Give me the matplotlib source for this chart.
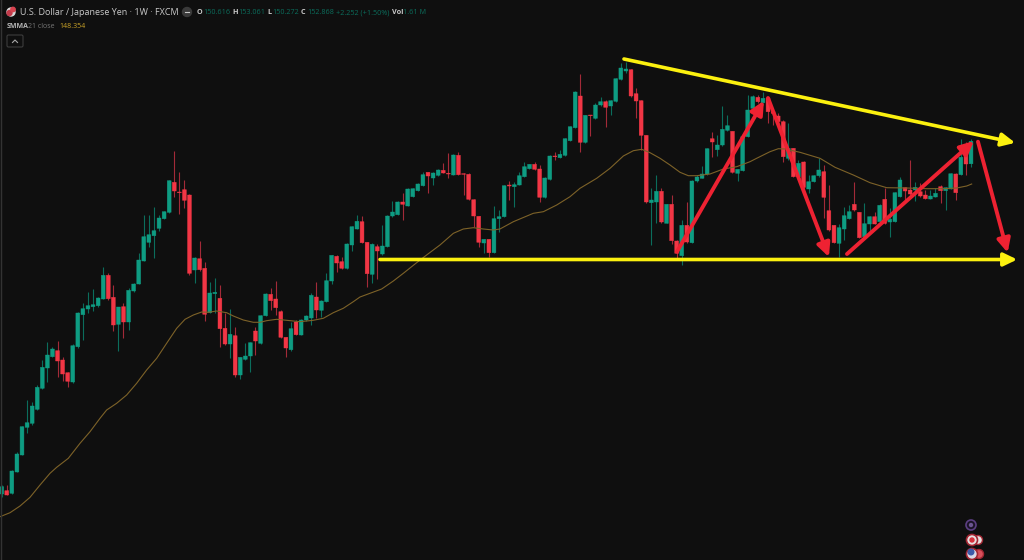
import matplotlib
matplotlib.use('Agg')
import matplotlib.pyplot as plt
from matplotlib.patches import Circle, FancyBboxPatch

plt.rcParams['font.family'] = ['Open Sans', 'DejaVu Sans']

# weekly candles, USD/JPY
open_ = [117.6, 117.93, 117.67, 119.8, 121.5, 124.27, 124.67, 126.07, 128.17, 130.2,
         131.33, 131.93, 131, 129.73, 128.8, 132.33, 135.53, 136.1, 136.33, 136.43,
         137.1, 139.47, 137.27, 134.57, 136.33, 134.8, 137.9, 138.6, 140.9, 142.77,
         143.43, 144.17, 145.13, 145.77, 148.77, 147.8, 148.03, 147.5, 140, 141.13,
         140.17, 135.73, 137.63, 137.17, 134.17, 132.6, 133.43, 129.5, 131.07, 131.4,
         133.9, 132.67, 135.43, 137.57, 137.1, 135.83, 133.27, 132.03, 134.8, 133.5,
         135, 135.2, 137.3, 135.97, 136.83, 138.9, 141.37, 140.83, 140.17, 142.5,
         144.1, 144.83, 142.77, 139.57, 142.33, 141.6, 142.33, 145.4, 145.53, 146.8,
         146.4, 147.33, 147.93, 148.43, 149.77, 149.2, 149.47, 149.97, 149.67, 149.5,
         151.47, 149.63, 149.57, 147.03, 145.37, 142.7, 143.07, 141.73, 145.13, 145.33,
         148.5, 148.33, 148.5, 149.33, 150.13, 150.57, 150.1, 147.27, 149.07, 151.4,
         151.23, 151.47, 152.93, 154.23, 157.4, 152.77, 155.5, 155.17, 156.5, 156.83,
         156.4, 156.87, 159.07, 159.9, 160.03, 157.63, 156.93, 153.47, 146.73, 146.8,
         147.87, 144.67, 146.57, 142.9, 141.43, 144.47, 142.73, 148.9, 149.17, 149.6,
         153.13, 152.03, 152.5, 153.97, 153.87, 149.67, 149.93, 153.33, 156.17, 157.27,
         156.73, 157.2, 155.83, 155.4, 154.83, 151.17, 152.17, 149.33, 150.8, 148.1,
         148.83, 149.43, 149.83, 145.93, 144.47, 142.67, 144.1, 145.13, 146.57, 145.77,
         143.33, 144.6, 145.33, 144.83, 147.07, 144.8, 144.83, 147.33, 148.23, 148,
         148, 147.83, 147.5, 147.1, 147.3, 148.33, 147.93, 148.1, 149.6, 149.53,
         152.33, 150.62]
high = [118.5, 118.5, 119.97, 121.83, 124.4, 127, 126.83, 128.5, 131, 132.83,
        132.33, 132.9, 131.33, 129.83, 132.6, 135.77, 136.73, 137.83, 138.07, 137.33,
        140.33, 139.67, 138.5, 136.33, 136.67, 138.17, 138.67, 141.67, 145.5, 145.5,
        146.33, 145.5, 145.9, 149, 151.9, 149.83, 149, 147.57, 141.27, 142.93,
        140.77, 138.83, 139.17, 138.5, 135.67, 136.07, 134.27, 131.33, 132.67, 132.8,
        134.33, 135.5, 137.67, 138.17, 138.93, 136, 133.33, 134.83, 135, 135.07,
        135.5, 137.67, 138.83, 137, 139.73, 141.53, 141.47, 141.33, 142.67, 144.4,
        145.5, 145.4, 142.83, 142.67, 142.6, 144.5, 145.47, 146.93, 146.9, 147.73,
        148.17, 148.17, 148.67, 149.83, 149.83, 149.83, 150.07, 150.73, 151.67, 151.57,
        151.83, 149.73, 149.67, 147.1, 145.4, 143.13, 143.13, 146.4, 146, 148.5,
        148.9, 148.83, 149.83, 150.83, 150.63, 150.83, 150.5, 149.27, 151.47, 151.83,
        152, 153.2, 154.4, 157.87, 159.6, 155.5, 155.5, 156.67, 157.33, 157,
        157, 159.2, 160.67, 160.83, 160.1, 158.17, 157, 153.53, 148.17, 149.5,
        148.17, 146.6, 147.5, 143, 145, 146.83, 148.97, 149.5, 150.4, 152.2,
        153.83, 153.5, 156.4, 155.5, 153.93, 150.13, 153.4, 157.5, 157.5, 157.5,
        157.83, 157.27, 156, 155.67, 155, 154.67, 152.23, 151, 150.87, 149.5,
        149.5, 151.17, 150.5, 148.5, 144.53, 144.6, 146.33, 146.5, 148.83, 145.83,
        146.67, 145.4, 145.83, 146.6, 148.17, 146.17, 147.8, 149.33, 148.33, 151,
        148.83, 148.67, 148, 148, 148.17, 148.5, 148.33, 149.73, 149.67, 153.13,
        152.83, 153.06]
low = [117.27, 117.47, 117.63, 119.77, 121.47, 123.67, 124.5, 126.05, 128.15, 128.83,
       131.27, 129.33, 128.93, 128.27, 128.73, 132.17, 133, 135.73, 135.93, 136.33,
       137.07, 137, 133.93, 131.93, 133.17, 134, 137.83, 138.57, 140.87, 142.33,
       141.17, 143.93, 145.07, 145.73, 147.33, 145.6, 146.17, 139.5, 138.73, 139.93,
       134.93, 135.67, 135.67, 132.27, 132.5, 131.17, 129.33, 129.07, 131, 129.83,
       131.5, 132.6, 135.4, 136, 135.5, 133.17, 131.33, 131.93, 133.5, 133.47,
       134.93, 134.47, 135.17, 135.27, 136.8, 138.6, 139.83, 140.07, 140.13, 141.93,
       144.07, 142.67, 138.33, 138.67, 139.07, 141.53, 142.27, 145.27, 145.5, 145,
       146.37, 147.27, 147.9, 148.4, 147.67, 148.5, 149.4, 149.67, 149.17, 149.47,
       149.47, 147.5, 147, 144.33, 142.27, 141.67, 141.33, 141.7, 143.83, 145.27,
       147, 146.33, 148.47, 149.3, 150.07, 150, 146.83, 147.23, 149.03, 151,
       151.17, 151.43, 152.9, 154.2, 151.83, 152.73, 153.4, 155.13, 156.43, 154.27,
       155.5, 156.83, 159, 159.67, 157.33, 155.17, 152, 146.73, 142.5, 144.67,
       144.73, 144.67, 142.6, 141.17, 140.5, 142.73, 142.67, 148.83, 149.17, 149.53,
       151.33, 151.4, 152.43, 153.9, 149.73, 148.93, 149.87, 153.27, 156.1, 156.67,
       156.67, 154.67, 154.5, 154.67, 150.83, 151, 149.27, 149.27, 147.5, 147.67,
       148.77, 149.33, 145.17, 143.93, 142.67, 141.33, 143, 145.07, 145.93, 143.17,
       143.27, 143.67, 144.57, 144.8, 144.6, 143.33, 144.77, 147.27, 147, 147.5,
       146.93, 147.33, 147.07, 147.07, 147.27, 146.73, 146, 148.07, 147, 149.47,
       149.5, 150.27]
close = [118.33, 117.5, 119.9, 121.6, 124.33, 124.73, 126.4, 128.27, 130.27, 131.5,
         132.1, 130.9, 129.6, 128.87, 132.43, 135.7, 136.13, 136.43, 136.53, 137.2,
         139.47, 137.13, 134.5, 136.3, 134.8, 137.97, 138.6, 141, 143.33, 143.53,
         143.93, 145.2, 145.83, 148.93, 147.9, 147.73, 146.97, 139.67, 141.2, 140.03,
         135.57, 137.7, 137.77, 134.13, 132.6, 133.57, 129.5, 131.27, 131.4, 132.73,
         132.9, 135.43, 137.6, 136.93, 136.23, 133.27, 132.2, 134.13, 133.53, 135,
         135.4, 137.47, 136, 136.9, 138.93, 141.47, 140.7, 140.17, 142.6, 144.33,
         144.87, 142.73, 139.63, 142.57, 141.9, 142.4, 145.4, 145.8, 146.8, 146.57,
         148.1, 148.13, 148.6, 149.53, 149.4, 149.7, 150, 149.7, 149.6, 151.5,
         149.53, 149.57, 147.07, 145.4, 142.77, 143.07, 141.73, 145.13, 145.33, 148.43,
         148.4, 148.53, 149.43, 150.33, 150.57, 150.07, 147.27, 149.2, 151.4, 151.33,
         151.57, 153.13, 154.33, 157.8, 152.77, 155.47, 155.43, 156.5, 156.83, 156.27,
         156.93, 159.13, 160.2, 160.1, 157.4, 156.9, 153.47, 146.8, 147, 147.87,
         144.8, 146.57, 142.93, 141.67, 144.47, 142.8, 148.9, 149.3, 149.6, 152.13,
         152.8, 152.5, 154.07, 154.43, 149.77, 150.07, 153.33, 156, 157.33, 156.83,
         157.17, 155.83, 155.67, 154.83, 151.33, 152.17, 149.33, 150.67, 148.27, 148.83,
         149.43, 150, 147.27, 144, 142.73, 144.23, 145.43, 145.83, 146, 143.23,
         144.63, 145.33, 144.6, 146.47, 144.67, 145.07, 147.73, 149, 147.9, 147.6,
         148.27, 147.4, 147.13, 147.4, 147.67, 147.93, 148.23, 149.63, 147.73, 151.27,
         150.6, 152.87]

# SMMA 21 line, sampled along the curve
smma_week = [0.67, 2.64, 4.61, 6.58, 8.55, 10.52, 11.83, 14.13, 16.43, 18.4,
             20.37, 21.68, 23.65, 25.62, 27.59, 29.56, 31.54, 33.5, 35.48, 37.12,
             38.76, 40.4, 41.72, 43.36, 45.33, 46.64, 48.61, 50.58, 51.9, 53.2,
             55.18, 57.15, 59.77, 62.4, 64.37, 66.34, 68.31, 70.28, 71.6, 73.57,
             75.87, 78.17, 80.14, 82.76, 84.73, 87.36, 90, 91.96, 93.93, 95.9,
             97.87, 99.18, 101.82, 105.76, 107.73, 110.36, 112.98, 114.95, 118.24, 120.87,
             123.49, 125.46, 127.11, 128.75, 130.72, 132.69, 134.66, 136.3, 137.95, 140.57,
             143.2, 145.83, 148.45, 149.76, 152.39, 154.03, 155.35, 158.3, 162.24, 165.2,
             168.81, 172.1, 175.38, 179.32, 183.26, 186.55, 189.17, 191.15, 192.13]
smma_value = [115.33, 115.73, 116.4, 117.27, 118.5, 119.67, 120.27, 121.17, 122.67, 123.83,
              125.17, 126, 126.67, 127.5, 128.67, 130, 131.17, 132.67, 134.17, 135.07,
              135.5, 135.8, 135.77, 135.9, 135.73, 135.4, 135, 134.77, 134.77, 134.93,
              135.07, 134.97, 134.83, 134.97, 135.17, 135.73, 136.17, 136.83, 137.3, 137.67,
              138.1, 138.9, 139.67, 140.73, 141.5, 142.5, 143.67, 144.1, 144.23, 144.1,
              144, 144.1, 144.83, 145.67, 145.83, 146.5, 147.33, 148.17, 149.17, 150.17,
              151.4, 151.93, 152.07, 151.73, 151.17, 150.5, 149.77, 149.43, 149.43, 149.6,
              150.1, 150.33, 150.83, 151.17, 151.83, 152.13, 152.1, 151.77, 151.17, 150.27,
              149.5, 148.73, 148.23, 148.2, 148.13, 148.13, 148.2, 148.4, 148.6]

# hand drawn lines: (start week, start price, end week, end price)
yellow_lines = [(123.62, 161.1, 200.7, 152.72),
                (75.54, 141.05, 201.1, 141.05)]
red_arrows = [(134.06, 141.83, 151.2, 156.93),
              (152.0, 157.2, 164.0, 141.3),
              (167.56, 141.6, 192.58, 152.9),
              (193.37, 152.83, 199.22, 141.73)]

legend_parts = [('O', 197), ('150.616', 203), ('H', 232), ('153.061', 238),
                ('L', 267), ('150.272', 272), ('C', 301), ('152.868', 307),
                ('+2.252 (+1.50%)', 336), ('Vol', 392), ('1.61 M', 403)]

bg = '#0f0f0f'
green = '#0e9c82'
red = '#f23645'
green_wick = '#0b6d5c'
red_wick = '#a32a38'

fig = plt.figure(figsize=(10.24, 5.6), dpi=100, facecolor=bg)
ax = fig.add_axes([0, 0, 1, 1], facecolor=bg)
ax.set_xlim(0.665, 202.44)
ax.set_ylim(111, 167)
ax.axis('off')

weeks = list(range(1, len(close) + 1))
body_col = [green if c >= o else red for o, c in zip(open_, close)]
wick_col = [green_wick if c >= o else red_wick for o, c in zip(open_, close)]
bottoms = [min(o, c) for o, c in zip(open_, close)]
heights = [abs(c - o) for o, c in zip(open_, close)]

ax.vlines(weeks, low, high, colors=wick_col, lw=0.8, zorder=2)
bars = ax.bar(weeks, heights, bottom=bottoms, width=0.76, color=body_col, edgecolor=body_col, lw=0.3, zorder=3)
for b in bars:
    b.set_snap(False)
ax.plot(smma_week, smma_value, color='#7d6228', lw=0.8, zorder=4)

for x0, y0, x1, y1 in yellow_lines:
    ax.annotate('', xy=(x1, y1), xytext=(x0, y0), zorder=5,
                arrowprops=dict(arrowstyle='-|>,head_length=0.62,head_width=0.3', color='#fcf10f',
                                lw=2.6, shrinkA=0, shrinkB=0, mutation_scale=13))
for x0, y0, x1, y1 in red_arrows:
    ax.annotate('', xy=(x1, y1), xytext=(x0, y0), zorder=6,
                arrowprops=dict(arrowstyle='-|>,head_length=0.62,head_width=0.3', color='#ee2232',
                                lw=2.8, shrinkA=0, shrinkB=0, mutation_scale=13))

# tradingview chrome, placed in screen pixels
top = fig.add_axes([0, 0, 1, 1], facecolor='none')
top.set_xlim(0, 1024)
top.set_ylim(560, 0)
top.axis('off')

top.plot([0.5, 0.5], [0, 560], color='#333333', lw=1)
top.text(20, 12.5, 'U.S. Dollar / Japanese Yen · 1W · FXCM', color='#c9c9c9', fontsize=6.45, va='center')
top.add_patch(Circle((187, 12), 4.5, color='#3a3a3a'))
top.plot([185, 189], [12, 12], color='#c9c9c9', lw=0.8)
top.add_patch(Circle((11, 12), 4, color='#d9d9d9'))
top.add_patch(Circle((9.5, 13), 2.5, color='#c23a4a'))
top.add_patch(Circle((13, 9.5), 2.2, color='#d8434f'))

for s, x in legend_parts:
    is_label = s in ('O', 'H', 'L', 'C', 'Vol')
    col = '#c9c9c9' if is_label else '#0b6d5c'
    top.text(x, 12.5, s, color=col, fontsize=5.2, va='center', fontweight='bold' if is_label else 'normal')

top.text(7, 26.5, 'SMMA', color='#b5b5b5', fontsize=5.0, va='center', fontweight='bold')
top.text(28, 26.5, '21 close', color='#777777', fontsize=5.0, va='center')
top.text(59, 26.5, '148.354', color='#c9a227', fontsize=5.0, va='center')

top.add_patch(FancyBboxPatch((7, 35), 16, 12, boxstyle='round,pad=0,rounding_size=1.5', fc='none', ec='#3d3d3d', lw=0.8))
top.plot([12.5, 15, 17.5], [42.5, 40, 42.5], color='#a8a8a8', lw=0.8)

# small round icons, bottom right
top.add_patch(Circle((971, 525), 5, fc='#1b1326', ec='#5b3f82', lw=1.2))
top.add_patch(Circle((971, 525), 1.5, color='#6b5590'))
top.add_patch(Circle((978, 540), 4.5, fc='#e8e0e0', ec='#a32733', lw=1))
top.add_patch(Circle((972, 540), 5.5, fc='#e8e0e0', ec='#a32733', lw=1.2))
top.add_patch(Circle((972, 540), 2, color='#d8303c'))
top.add_patch(Circle((979, 554), 4.5, fc='#d8505a', ec='#a32733', lw=1))
top.add_patch(Circle((972, 554), 5.5, fc='#d9d9e6', ec='#a32733', lw=1.2))
top.add_patch(Circle((971, 552), 2.8, color='#3d5aa8'))

fig.savefig('out.png', dpi=100, facecolor=bg)
